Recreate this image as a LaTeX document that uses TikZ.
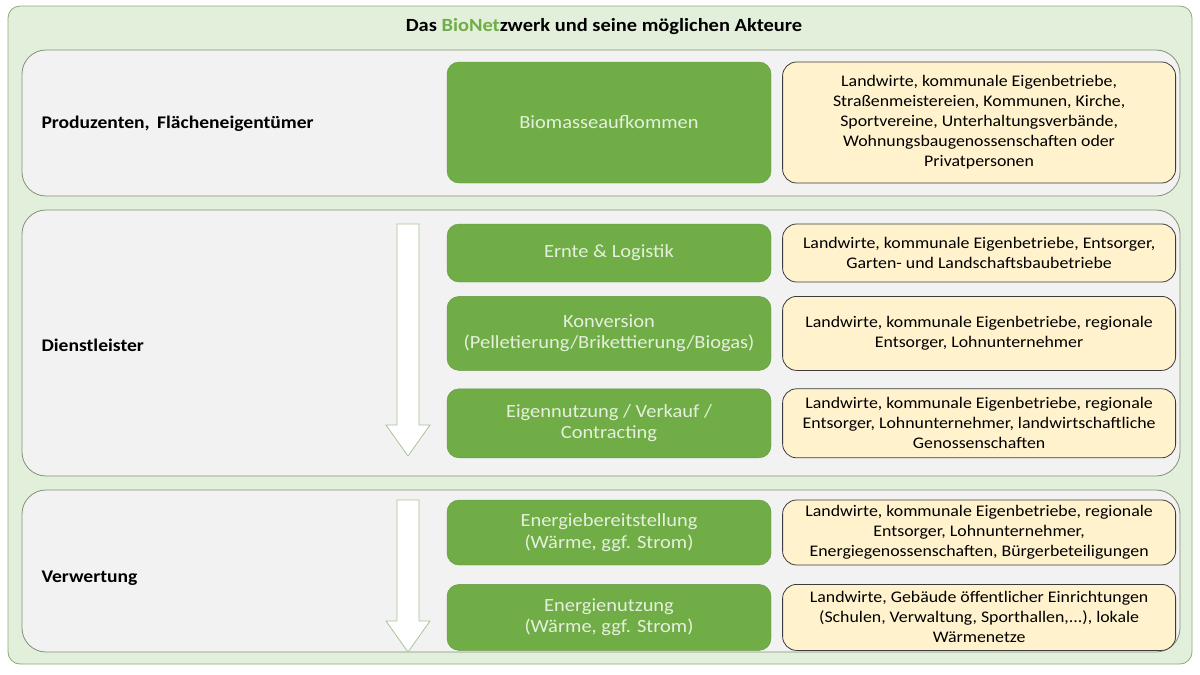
\documentclass[tikz,border=0pt]{standalone}
\usepackage{fontspec}
\setmainfont[FakeStretch=1.1]{Carlito}
\usetikzlibrary{positioning}
\definecolor{bggreen}{RGB}{226,239,218}
\definecolor{bgline}{RGB}{140,170,120}
\definecolor{panelgray}{RGB}{242,242,242}
\definecolor{panelline}{RGB}{130,145,120}
\definecolor{stagegreen}{RGB}{112,173,71}
\definecolor{stageline}{RGB}{95,150,60}
\definecolor{stagetext}{RGB}{228,240,220}
\definecolor{actorfill}{RGB}{255,242,204}
\definecolor{actorline}{RGB}{60,60,60}
\definecolor{arrowline}{RGB}{170,195,150}

\begin{document}
\begin{tikzpicture}[x=1pt,y=-1pt,
    node distance=14pt,
    panel/.style={
        draw=panelline, fill=panelgray, rounded corners=24pt,
        line width=0.8pt, minimum width=1158pt, inner sep=0pt
    },
    stage/.style={
        draw=stageline, fill=stagegreen, rounded corners=12pt,
        minimum width=324pt, inner sep=2pt, align=center,
        text=stagetext, font=\fontsize{18.6}{21.5}\selectfont
    },
    actors/.style={
        draw=actorline, fill=actorfill, rounded corners=14pt,
        minimum width=393pt, inner sep=2pt, align=center,
        line width=0.8pt, font=\fontsize{16.2}{20}\selectfont
    },
    rowlabel/.style={anchor=west, font=\fontsize{17.8}{20}\selectfont\bfseries},
    flow/.style={draw=arrowline, fill=white, line width=0.8pt, line join=miter}
]
\useasboundingbox (0,0) rectangle (1200,675);
\fill[white] (0,0) rectangle (1200,675);
\draw[bgline, fill=bggreen, rounded corners=12pt, line width=0.8pt] (8,6) rectangle (1192,664);

% title
\node[font=\fontsize{18.6}{20}\selectfont\bfseries] (title) at (604,27)
    {Das \textcolor{stagegreen}{BioNet}zwerk und seine möglichen Akteure};

% the three rows
\node[panel, minimum height=146pt] (prodpanel) at (601,123) {};
\node[panel, minimum height=266pt] (dienstpanel) at (601,343) {};
\node[panel, minimum height=162pt] (verwpanel) at (601,571) {};

\node[rowlabel] (prodlabel) at (38,124) {Produzenten,\, Flächeneigentümer};
\node[rowlabel] (dienstlabel) at (38,345) {Dienstleister};
\node[rowlabel] (verwlabel) at (38,578) {Verwertung};

% stages
\node[stage, minimum height=121pt] (biomasse) at (609,122.5) {Biomasseaufkommen};
\node[stage, minimum height=58pt] (ernte) at (609,253) {Ernte \& Logistik};
\node[stage, minimum height=74pt, below=of ernte] (konversion)
    {Konversion\\(Pelletierung/Brikettierung/Biogas)};
\node[stage, minimum height=69pt, below=18pt of konversion] (verkauf)
    {Eigennutzung / Verkauf /\\Contracting};
\node[stage, minimum height=65pt] (bereitstellung) at (609,532.5)
    {Energiebereitstellung\\(Wärme, ggf. Strom)};
\node[stage, minimum height=66pt, below=19pt of bereitstellung] (nutzung)
    {Energienutzung\\(Wärme, ggf. Strom)};

% actors
\node[actors, minimum height=121pt, right=11pt of biomasse] (biomasseakt)
    {Landwirte, kommunale Eigenbetriebe,\\Straßenmeistereien, Kommunen, Kirche,\\Sportvereine, Unterhaltungsverbände,\\Wohnungsbaugenossenschaften oder\\Privatpersonen};
\node[actors, minimum height=58pt, right=11pt of ernte] (ernteakt)
    {Landwirte, kommunale Eigenbetriebe, Entsorger,\\Garten- und Landschaftsbaubetriebe};
\node[actors, minimum height=74pt, right=11pt of konversion] (konversionakt)
    {Landwirte, kommunale Eigenbetriebe, regionale\\Entsorger, Lohnunternehmer};
\node[actors, minimum height=69pt, right=11pt of verkauf] (verkaufakt)
    {Landwirte, kommunale Eigenbetriebe, regionale\\Entsorger, Lohnunternehmer, landwirtschaftliche\\Genossenschaften};
\node[actors, minimum height=65pt, right=11pt of bereitstellung] (bereitstellungakt)
    {Landwirte, kommunale Eigenbetriebe, regionale\\Entsorger, Lohnunternehmer,\\Energiegenossenschaften, Bürgerbeteiligungen};
\node[actors, minimum height=66pt, right=11pt of nutzung] (nutzungakt)
    {Landwirte, Gebäude öffentlicher Einrichtungen\\(Schulen, Verwaltung, Sporthallen,...), lokale\\Wärmenetze};

% flow arrows
\coordinate (flowA) at (408,224);
\coordinate (flowB) at (408,500);
\draw[flow] (flowA) ++(-11,0) -- ++(22,0) -- ++(0,201) -- ++(11,0) -- ++(-22,31)
    -- ++(-22,-31) -- ++(11,0) -- cycle;
\draw[flow] (flowB) ++(-11,0) -- ++(22,0) -- ++(0,121) -- ++(11,0) -- ++(-22,31)
    -- ++(-22,-31) -- ++(11,0) -- cycle;
\end{tikzpicture}
\end{document}
